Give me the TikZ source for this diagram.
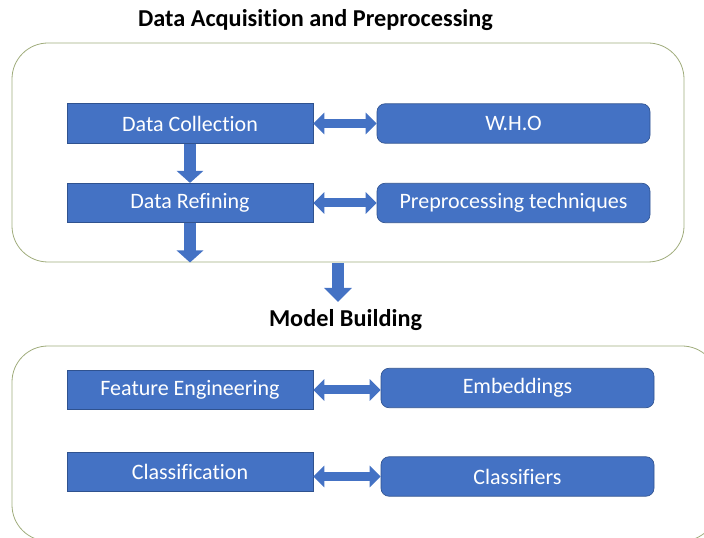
\documentclass[tikz,border=0pt]{standalone}
\usepackage{fontspec}
\setmainfont{Carlito}[Ligatures={NoCommon}]
\usetikzlibrary{arrows.meta,positioning}

\definecolor{boxblue}{HTML}{4472C4}
\definecolor{boxedge}{HTML}{2F528F}
\definecolor{framegreen}{HTML}{A0AC7C}

\tikzset{
  stagebox/.style={rectangle,fill=boxblue,draw=boxedge,line width=0.5pt,text=white,
    minimum width=184.5pt,minimum height=29.6pt,inner sep=0pt,
    font=\fontsize{16.5}{19}\selectfont},
  sourcebox/.style={stagebox,rounded corners=6pt,minimum width=204.75pt},
  frame/.style={draw=framegreen,line width=0.6pt,rounded corners=27pt},
  dblarrow/.style={boxblue,line width=6.75pt,
    {Triangle[width=15.75pt,length=8.25pt]}-{Triangle[width=15.75pt,length=8.25pt]}},
  downarrow/.style={boxblue,line width=9pt,-{Triangle[width=19.5pt,length=9pt]}},
  heading/.style={font=\bfseries\fontsize{18.2}{21}\selectfont}
}

\begin{document}
\begin{tikzpicture}[x=0.75pt,y=-0.75pt]
\useasboundingbox (0,0) rectangle (704,538);
\clip (0,0) rectangle (704,538);

% frames
\draw[frame] (12,43) rectangle (684,262);
\draw[frame] (12,346) rectangle (718,541);

% headings
\node[heading] (acqtitle) at (315.5,20) {Data Acquisition and Preprocessing};
\node[heading] (modeltitle) at (345.5,320) {Model Building};

% data acquisition and preprocessing
\node[stagebox] (collect) at (190,123.5) {Data Collection};
\node[stagebox] (refine) at (190,203) {Data Refining};
\node[sourcebox] (who) at (513.5,123.5) {W.H.O};
\node[sourcebox] (prep) at (513.5,203) {Preprocessing techniques};

% model building
\node[stagebox] (feature) at (190,390) {Feature Engineering};
\node[stagebox] (classify) at (190,472) {Classification};
\node[sourcebox] (embed) at (517.5,388) {Embeddings};
\node[sourcebox] (classifiers) at (517.5,476.5) {Classifiers};

\coordinate (acqexit) at (190,262.5);
\coordinate (linkstart) at (338,263);
\coordinate (linkend) at (338,302);

% arrows
\draw[downarrow] (collect.south) -- (refine.north);
\draw[downarrow] (refine.south) -- (acqexit);
\draw[downarrow,-{Triangle[width=20.25pt,length=10.5pt]}] (linkstart) -- (linkend);

\draw[dblarrow] (collect.east) -- (who.west);
\draw[dblarrow] (refine.east) -- (prep.west);
\draw[dblarrow] (feature.east) -- (feature.east -| embed.west);
\draw[dblarrow] (classifiers.west -| classify.east) -- (classifiers.west);
\end{tikzpicture}
\end{document}
